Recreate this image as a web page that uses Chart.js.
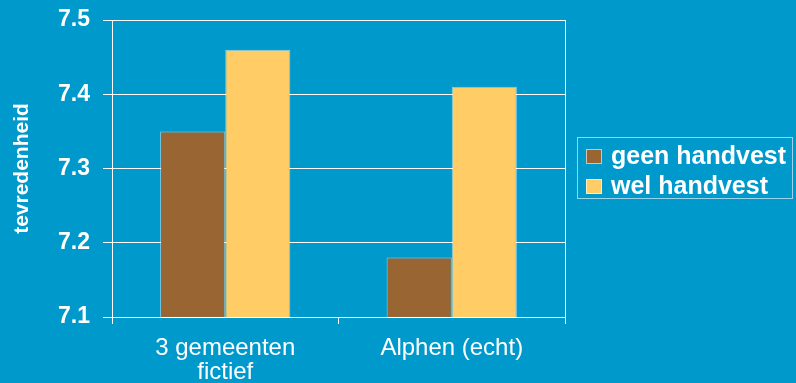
<!DOCTYPE html>
<html>
<head>
<meta charset="utf-8">
<script src="https://cdn.jsdelivr.net/npm/chart.js@4/dist/chart.umd.min.js"></script>
<style>
  html, body { margin: 0; padding: 0; background: #0099cc; }
  #wrap { width: 796px; height: 383px; }
</style>
</head>
<body>
<div id="wrap"><canvas id="chart"></canvas></div>
<script>
const categories = [['3 gemeenten', 'fictief'], 'Alphen (echt)'];
const geenHandvest = [7.35, 7.18];
const welHandvest = [7.46, 7.41];
const yTicks = [7.1, 7.2, 7.3, 7.4, 7.5];

const BG = '#0099cc';
const FONT = 'Arial, "Liberation Sans", sans-serif';

// paints the blue backdrop and the right frame edge
const frame = {
  id: 'frame',
  beforeDraw(chart) {
    const ctx = chart.ctx;
    ctx.save();
    ctx.fillStyle = BG;
    ctx.fillRect(0, 0, chart.width, chart.height);
    ctx.restore();
  },
  afterDatasetsDraw(chart) {
    const { ctx, chartArea } = chart;
    ctx.save();
    ctx.strokeStyle = '#ffffff';
    ctx.lineWidth = 1;
    ctx.beginPath();
    ctx.moveTo(Math.round(chartArea.right) + 0.5, chartArea.top);
    ctx.lineTo(Math.round(chartArea.right) + 0.5, chartArea.bottom + 7);
    ctx.stroke();
    ctx.restore();
  }
};

// boxed legend on the right
const boxLegend = {
  id: 'boxLegend',
  afterDraw(chart) {
    const ctx = chart.ctx;
    const x = 577, y = 137, w = 215, h = 61;
    ctx.save();
    ctx.strokeStyle = 'rgba(255,255,255,0.6)';
    ctx.lineWidth = 1;
    ctx.strokeRect(x + 0.5, y + 0.5, w, h);
    ctx.font = 'bold 25px ' + FONT;
    ctx.textBaseline = 'middle';
    chart.data.datasets.forEach((ds, i) => {
      const cy = y + 19 + i * 30;
      ctx.fillStyle = ds.backgroundColor;
      ctx.fillRect(x + 9, cy - 7, 16, 15);
      ctx.strokeStyle = 'rgba(255,255,255,0.6)';
      ctx.strokeRect(x + 9.5, cy - 6.5, 15, 14);
      ctx.fillStyle = '#ffffff';
      ctx.fillText(ds.label, x + 34, cy + 1);
    });
    ctx.restore();
  }
};

new Chart(document.getElementById('chart'), {
  type: 'bar',
  data: {
    labels: categories,
    datasets: [
      {
        label: 'geen handvest',
        data: geenHandvest,
        backgroundColor: '#996633',
        borderColor: 'rgba(255,255,255,0.55)',
        borderWidth: 1
      },
      {
        label: 'wel handvest',
        data: welHandvest,
        backgroundColor: '#ffcc66',
        borderColor: 'rgba(255,255,255,0.55)',
        borderWidth: 1
      }
    ]
  },
  options: {
    responsive: true,
    maintainAspectRatio: false,
    animation: false,
    devicePixelRatio: 1,
    layout: { padding: { top: 20, right: 231, left: 0, bottom: 0 } },
    datasets: { bar: { categoryPercentage: 0.575, barPercentage: 1 } },
    plugins: {
      legend: { display: false },
      tooltip: { enabled: false }
    },
    scales: {
      x: {
        offset: true,
        grid: {
          offset: true,
          drawOnChartArea: false,
          drawTicks: true,
          tickLength: 7,
          color: '#ffffff'
        },
        border: { display: true, color: '#ffffff', width: 1 },
        ticks: {
          color: '#ffffff',
          font: { family: FONT, size: 24, lineHeight: 1.0 },
          padding: 12,
          maxRotation: 0
        },
        afterFit(scale) {
          scale.height = 66;
          scale.paddingLeft = 0;
          scale.paddingRight = 0;
        }
      },
      y: {
        min: 7.1,
        max: 7.5,
        afterBuildTicks(scale) {
          scale.ticks = yTicks.map(v => ({ value: v }));
        },
        grid: {
          color: '#ffffff',
          lineWidth: 1,
          tickLength: 9
        },
        border: { display: true, color: '#ffffff', width: 1 },
        ticks: {
          color: '#ffffff',
          font: { family: FONT, size: 23, weight: 'bold', lineHeight: 1.0 },
          padding: 13,
          callback: v => v.toFixed(1)
        },
        title: {
          display: true,
          text: 'tevredenheid',
          color: '#ffffff',
          font: { family: FONT, size: 21, weight: 'bold', lineHeight: 1.0 },
          padding: { top: 12, bottom: 0 }
        },
        afterFit(scale) {
          scale.width = 112;
          scale.paddingTop = 0;
          scale.paddingBottom = 0;
        }
      }
    }
  },
  plugins: [frame, boxLegend]
});
</script>
</body>
</html>
